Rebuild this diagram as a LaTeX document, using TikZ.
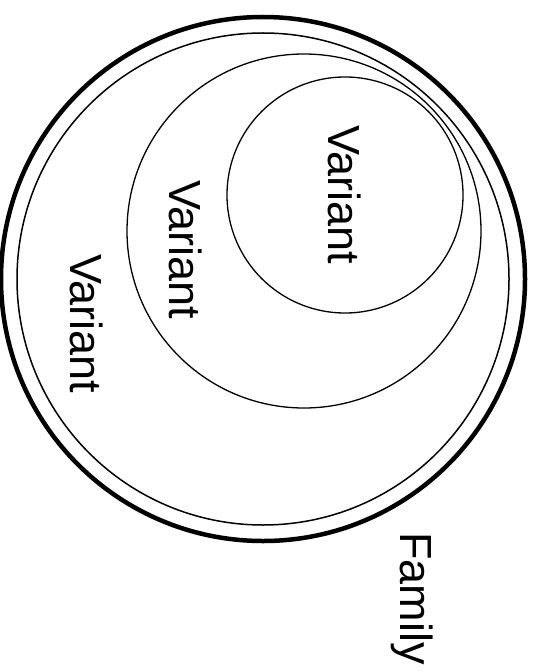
\documentclass[tikz,border=0pt]{standalone}
\usepackage{fontspec}
\setmainfont{Liberation Sans}
\begin{document}
\begin{tikzpicture}[x=1pt,y=-1pt,
  ring/.style={draw=black, circle, inner sep=0pt, outer sep=0pt},
  lbl/.style={rotate=-90, anchor=base west, inner sep=0pt, font=\fontsize{45}{50}\selectfont}]
\useasboundingbox (0,0) rectangle (533,671);
\node[ring, line width=4.5pt, minimum size=524pt] (family) at (263,279) {};
\node[ring, line width=1.5pt, minimum size=492pt] (v1) at (263,279) {};
\node[ring, line width=1.3pt, minimum size=354pt] (v2) at (304,231) {};
\node[ring, line width=1.3pt, minimum size=236pt] (v3) at (345,195) {};
\node[lbl] (t3) at (328,125) {Variant};
\node[lbl] (t2) at (169,180) {Variant};
\node[lbl] (t1) at (70,254) {Variant};
\node[lbl] (tf) at (400,532) {Family};
\end{tikzpicture}
\end{document}
